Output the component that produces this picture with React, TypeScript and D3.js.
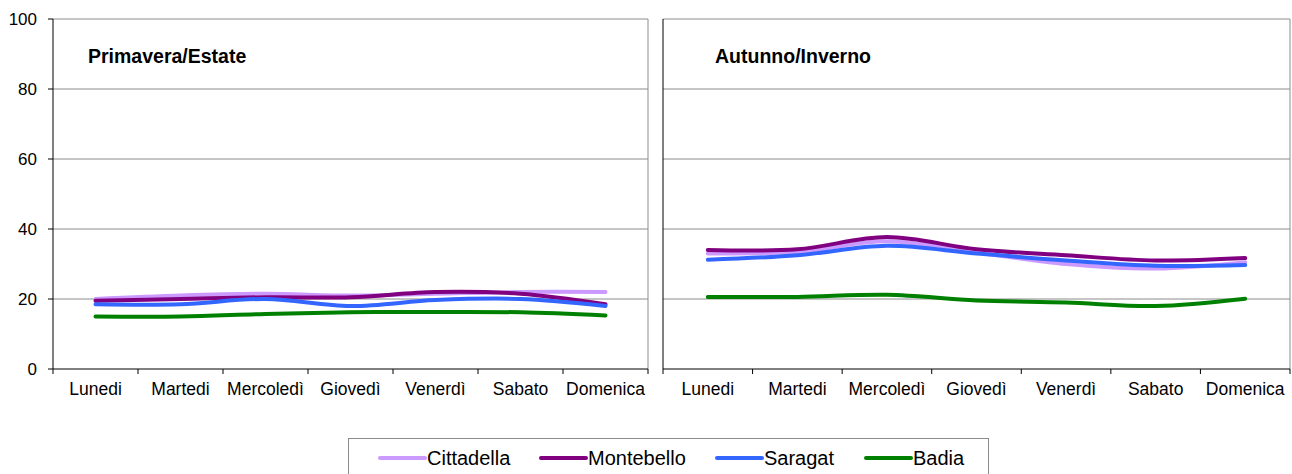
import React from "react";
import * as d3 from "d3";

const days = ["Lunedi", "Martedi", "Mercoledì", "Giovedì", "Venerdì", "Sabato", "Domenica"];
const seriesNames = ["Cittadella", "Montebello", "Saragat", "Badia"];
const seriesColors = ["#CC99FF", "#800080", "#3366FF", "#008000"];
const yTicks = [0, 20, 40, 60, 80, 100];

// Primavera/Estate
const springCittadella = [20, 21, 21.5, 21, 21.5, 22, 22];
const springMontebello = [19.5, 20, 20.5, 20.5, 22, 21.5, 18.5];
const springSaragat = [18.5, 18.5, 20, 18, 19.7, 20, 18];
const springBadia = [15, 15, 15.7, 16.2, 16.3, 16.2, 15.3];

// Autunno/Inverno
const autumnCittadella = [33, 33.5, 36.5, 33.3, 30, 28.7, 30.5];
const autumnMontebello = [34, 34.2, 37.7, 34.2, 32.5, 31, 31.7];
const autumnSaragat = [31.2, 32.5, 35.2, 33, 31, 29.5, 29.7];
const autumnBadia = [20.6, 20.6, 21.2, 19.6, 19, 18, 20.1];

const panels = [
  { title: "Primavera/Estate", x0: 53, x1: 648, data: [springCittadella, springMontebello, springSaragat, springBadia], showY: true, titleX: 88 },
  { title: "Autunno/Inverno", x0: 663, x1: 1290, data: [autumnCittadella, autumnMontebello, autumnSaragat, autumnBadia], showY: false, titleX: 715 },
];

const FONT = "'Liberation Sans', Arial, sans-serif";

export default function App() {
  const yTop = 19;
  const yBot = 369;
  const y = d3.scaleLinear().domain([0, 100]).range([yBot, yTop]);

  return (
    <svg width={1292} height={474} style={{ position: "absolute", left: 0, top: 0, background: "#fff" }} fontFamily={FONT}>
      <rect x={0} y={0} width={1292} height={474} fill="#fff" />
      {panels.map((p, pi) => {
        const xb = d3.scaleBand().domain(days).range([p.x0, p.x1]);
        const cx = (d: string) => (xb(d) as number) + xb.bandwidth() / 2;
        const line = d3
          .line<number>()
          .x((_, i) => cx(days[i]))
          .y((v) => y(v))
          .curve(d3.curveCatmullRom.alpha(0.5));
        return (
          <g key={pi}>
            {yTicks.filter((t) => t > 0).map((t) => (
              <line key={t} x1={p.x0} x2={p.x1} y1={y(t)} y2={y(t)} stroke="#8c8c8c" strokeWidth={1} />
            ))}
            <line x1={p.x1} x2={p.x1} y1={yTop} y2={yBot} stroke="#8c8c8c" strokeWidth={1} />
            <line x1={p.x0} x2={p.x0} y1={yTop} y2={yBot} stroke="#000" strokeWidth={1} />
            {p.showY &&
              yTicks.map((t) => (
                <g key={t}>
                  <line x1={p.x0 - 5} x2={p.x0} y1={y(t)} y2={y(t)} stroke="#000" />
                  <text x={p.x0 - 16} y={y(t)} dy="0.35em" textAnchor="end" fontSize={17} fill="#000">
                    {t}
                  </text>
                </g>
              ))}
            <line x1={p.x0} x2={p.x1} y1={yBot} y2={yBot} stroke="#000" strokeWidth={1} />
            {days.map((d) => (
              <line key={"t" + d} x1={xb(d)} x2={xb(d)} y1={yBot} y2={yBot + 5} stroke="#000" />
            ))}
            <line x1={p.x1} x2={p.x1} y1={yBot} y2={yBot + 5} stroke="#000" />
            {days.map((d) => (
              <text key={"l" + d} x={cx(d)} y={yBot + 26} textAnchor="middle" fontSize={17.5} fill="#000">
                {d}
              </text>
            ))}
            <text x={p.titleX} y={63} fontSize={19.5} fontWeight="bold" fill="#000">
              {p.title}
            </text>
            {p.data.map((s, si) => (
              <path key={si} d={line(s) || ""} fill="none" stroke={seriesColors[si]} strokeWidth={4} strokeLinecap="round" />
            ))}
          </g>
        );
      })}
      <rect x={348.5} y={438.5} width={640} height={40} fill="#fff" stroke="#8c8c8c" strokeWidth={1} />
      {seriesNames.map((n, i) => {
        const lx = [380, 541, 717, 866][i];
        return (
          <g key={n}>
            <line x1={lx} x2={lx + 45} y1={458} y2={458} stroke={seriesColors[i]} strokeWidth={4} strokeLinecap="round" />
            <text x={lx + 47} y={458} dy="0.35em" fontSize={20} fill="#000">
              {n}
            </text>
          </g>
        );
      })}
    </svg>
  );
}
